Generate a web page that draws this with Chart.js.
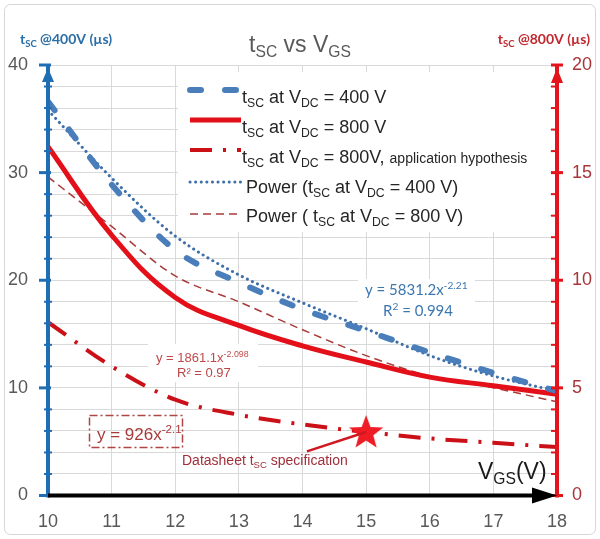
<!DOCTYPE html>
<html>
<head>
<meta charset="utf-8">
<title>tSC vs VGS</title>
<script src="https://cdn.jsdelivr.net/npm/chart.js@4.4.0/dist/chart.umd.min.js"></script>
<style>
  html, body { margin: 0; padding: 0; background: #fff; }
  #wrap { width: 600px; height: 539px; }
</style>
</head>
<body>
<div id="wrap"><canvas id="chart" width="600" height="539"></canvas></div>
<script>
'use strict';

// ── Data ───────────────────────────────────────────────────────────────────
const vgs = [10, 11, 12, 13, 14, 15, 16, 17, 18];
// left axis (µs @400V)
const tsc400 = [36.6, 28.9, 22.8, 19.8, 17.3, 15.3, 13.3, 11.4, 9.7];
const fit400 = [35.8, 29.5, 24.1, 20.5, 17.9, 15.5, 13.0, 11.1, 9.7];
// right axis (µs @800V)
const tsc800 = [16.2, 12.1, 9.2, 7.9, 6.95, 6.2, 5.5, 5.1, 4.7];
const fit800 = [14.8, 12.5, 10.2, 9.0, 7.7, 6.5, 5.55, 5.0, 4.35];
const tsc800App = [8.05, 6.0, 4.45, 3.75, 3.3, 2.95, 2.65, 2.45, 2.25];
// datasheet spec marker (right axis) and where its pointer line starts
const specX = [15];
const specY = [2.95];
const specPointerFrom = [14.07, 2.05];

const leftLabels = [0, 10, 20, 30, 40];
const rightLabels = [0, 5, 10, 15, 20];

// ── Styles ─────────────────────────────────────────────────────────────────
const FONT = "'Liberation Sans', Arial, sans-serif";
const CAL = "Lato, 'Open Sans', sans-serif";
const S400 = { color: '#4a7ebb', width: 6, dash: [11, 24], cap: 'round', tension: 0 };
const S800 = { color: '#e3101a', width: 5, dash: [], cap: 'butt', tension: 0.4 };
const SAPP = { color: '#cc1018', width: 4, dash: [22, 11, 3, 11], cap: 'butt', tension: 0 };
const SFIT400 = { color: '#3e6fa8', width: 3, dash: [0.1, 5.5], cap: 'round', tension: 0 };
const SFIT800 = { color: '#a83a3a', width: 1.5, dash: [8, 5], cap: 'butt', tension: 0 };

const pairs = ys => vgs.map((x, i) => ({ x: x, y: ys[i] }));

function lineSet(label, ys, axis, st) {
    const ds = {
        label: label,
        data: pairs(ys),
        yAxisID: axis,
        borderColor: st.color,
        borderWidth: st.width,
        borderDash: st.dash,
        borderCapStyle: st.cap,
        pointRadius: 0,
        fill: false,
    };
    if (st.tension) ds.tension = st.tension;
    else ds.cubicInterpolationMode = 'monotone';
    return ds;
}

// red filled five-point star used as the point style of the spec marker
function makeStar(size, color) {
    const c = document.createElement('canvas');
    c.width = size; c.height = size;
    const g = c.getContext('2d');
    const R = size / 2, r = R * 0.42;
    g.beginPath();
    for (let i = 0; i < 10; i++) {
        const a = -Math.PI / 2 + i * Math.PI / 5;
        const rad = i % 2 === 0 ? R : r;
        g.lineTo(R + rad * Math.cos(a), R + 1 + rad * Math.sin(a));
    }
    g.closePath();
    g.fillStyle = color;
    g.fill();
    return c;
}

// text with sub/superscripts: parts = [[text, kind]], kind: sub | sup | small
function drawRich(ctx, x, y, parts, o) {
    const fam = o.family || FONT, wt = o.weight || 'normal', size = o.size;
    const fontFor = k => {
        const s = (k === 'sub' || k === 'sup') ? size * (o.subScale || 0.68)
            : k === 'small' ? o.small : size;
        return wt + ' ' + s + 'px ' + fam;
    };
    let total = 0;
    parts.forEach(p => { ctx.font = fontFor(p[1]); total += ctx.measureText(p[0]).width; });
    let cx = o.align === 'center' ? x - total / 2 : o.align === 'right' ? x - total : x;
    ctx.fillStyle = o.color;
    ctx.textAlign = 'left';
    ctx.textBaseline = 'alphabetic';
    parts.forEach(p => {
        ctx.font = fontFor(p[1]);
        const dy = p[1] === 'sub' ? size * 0.22 : p[1] === 'sup' ? -size * 0.42 : 0;
        ctx.fillText(p[0], cx, y + dy);
        cx += ctx.measureText(p[0]).width;
    });
    return total;
}

function strokeLine(ctx, x1, y1, x2, y2, st) {
    ctx.save();
    ctx.strokeStyle = st.color;
    ctx.lineWidth = st.width;
    ctx.setLineDash(st.dash || []);
    ctx.lineCap = st.cap || 'butt';
    ctx.beginPath();
    ctx.moveTo(x1, y1);
    ctx.lineTo(x2, y2);
    ctx.stroke();
    ctx.restore();
}

function tri(ctx, pts, color) {
    ctx.beginPath();
    ctx.moveTo(pts[0], pts[1]);
    ctx.lineTo(pts[2], pts[3]);
    ctx.lineTo(pts[4], pts[5]);
    ctx.closePath();
    ctx.fillStyle = color;
    ctx.fill();
}

const legendItems = [
    { y: 90, base: 103, st: S400, parts: [['t'], ['SC', 'sub'], [' at V'], ['DC', 'sub'], [' = 400 V']] },
    { y: 120, base: 133, st: S800, parts: [['t'], ['SC', 'sub'], [' at V'], ['DC', 'sub'], [' = 800 V']] },
    { y: 150, base: 163, st: SAPP, parts: [['t'], ['SC', 'sub'], [' at V'], ['DC', 'sub'], [' = 800V, '], ['application hypothesis', 'small']] },
    { y: 182, base: 193, st: SFIT400, parts: [['Power (t'], ['SC', 'sub'], [' at V'], ['DC', 'sub'], [' = 400 V)']] },
    { y: 214, base: 222, st: SFIT800, parts: [['Power ( t'], ['SC', 'sub'], [' at V'], ['DC', 'sub'], [' = 800 V)']] },
];

const decor = {
    id: 'decor',
    beforeDraw(chart) {
        const ctx = chart.ctx;
        ctx.save();
        ctx.fillStyle = '#fff';
        ctx.fillRect(0, 0, chart.width, chart.height);
        ctx.strokeStyle = '#d6d6d6';
        ctx.lineWidth = 1;
        ctx.beginPath();
        ctx.roundRect(4.5, 4.5, 591, 530, 6);
        ctx.stroke();
        ctx.restore();
    },
    beforeDatasetsDraw(chart) {
        const ctx = chart.ctx;
        ctx.save();
        ctx.fillStyle = '#fff';
        ctx.fillRect(178, 72, 372, 160);   // legend
        ctx.fillRect(358, 279, 117, 43);   // 400 V fit label
        ctx.fillRect(148, 344, 110, 38);   // 800 V fit label
        ctx.restore();
    },
    afterDatasetsDraw(chart) {
        const ctx = chart.ctx;
        const a = chart.chartArea;
        const xs = chart.scales.x, yl = chart.scales.y, yr = chart.scales.y1;
        ctx.save();

        // left axis (blue) with ticks and arrow
        const blue = '#1f6db3';
        strokeLine(ctx, a.left, a.bottom + 2, a.left, a.top, { color: blue, width: 4 });
        for (let v = 0; v <= 40; v += 2) {
            const py = yl.getPixelForValue(v);
            if (v % 10 === 0) strokeLine(ctx, a.left - 9, py, a.left + 3, py, { color: blue, width: 3 });
            else strokeLine(ctx, a.left - 4, py, a.left + 4, py, { color: blue, width: 2 });
        }
        tri(ctx, [a.left, a.top + 3, a.left - 6, a.top + 17, a.left + 6, a.top + 17], blue);

        // right axis (red) with ticks and arrow
        const red = '#e3141c';
        strokeLine(ctx, a.right, a.bottom + 2, a.right, a.top, { color: red, width: 4 });
        for (let v = 0; v <= 20; v += 1) {
            const py = yr.getPixelForValue(v);
            if (v % 5 === 0) strokeLine(ctx, a.right - 6, py, a.right + 6, py, { color: red, width: 3 });
            else strokeLine(ctx, a.right - 6, py, a.right + 1, py, { color: red, width: 2 });
        }
        tri(ctx, [a.right, a.top + 3, a.right - 6, a.top + 18, a.right + 6, a.top + 18], red);

        // x axis (black) with arrow
        strokeLine(ctx, a.left, a.bottom, a.right - 18, a.bottom, { color: '#000', width: 4 });
        tri(ctx, [a.right, a.bottom, a.right - 25, a.bottom - 8, a.right - 25, a.bottom + 8], '#000');

        // legend
        legendItems.forEach(it => {
            strokeLine(ctx, 190, it.y, 241, it.y, it.st);
            drawRich(ctx, it.st === SFIT400 || it.st === SFIT800 ? 246 : 242, it.base, it.parts,
                { size: 18, small: 14, color: '#262626' });
        });

        // fit equations
        drawRich(ctx, 365, 295, [['y = 5831.2x'], ['-2.21', 'sup']], { size: 15, family: CAL, color: '#3d77b0' });
        drawRich(ctx, 418, 316, [['R'], ['2', 'sup'], [' = 0.994']], { size: 15, family: CAL, color: '#3d77b0', align: 'center' });
        drawRich(ctx, 156, 362, [['y = 1861.1x'], ['-2.098', 'sup']], { size: 13, color: '#c04a4a' });
        drawRich(ctx, 177, 377, [['R² = 0.97']], { size: 13, color: '#b84646' });

        // application hypothesis equation in a dash-dot box
        ctx.save();
        ctx.strokeStyle = '#b04545';
        ctx.lineWidth = 1.5;
        ctx.setLineDash([8, 3, 2, 3]);
        ctx.strokeRect(89.5, 415.5, 93, 32);
        ctx.restore();
        drawRich(ctx, 97, 440, [['y = 926x'], ['-2.1', 'sup']], { size: 17, color: '#a83a3a' });

        // datasheet spec pointer
        strokeLine(ctx, xs.getPixelForValue(specPointerFrom[0]), yr.getPixelForValue(specPointerFrom[1]),
            xs.getPixelForValue(specX[0]), yr.getPixelForValue(specY[0]), { color: '#d01820', width: 2.5 });
        drawRich(ctx, 182, 465, [['Datasheet t'], ['SC', 'sub'], [' specification']], { size: 14, color: '#a0303a' });

        // x axis name
        drawRich(ctx, 478, 479, [['V'], ['GS', 'sub'], ['(V)']], { size: 23, color: '#1a1a1a' });

        // titles
        drawRich(ctx, 300, 52, [['t'], ['SC', 'sub'], [' vs V'], ['GS', 'sub']], { size: 23, color: '#595959', align: 'center' });
        drawRich(ctx, 20, 44, [['t'], ['SC', 'sub'], [' @400V (µs)']], { size: 14, family: CAL, weight: 'bold', color: '#2a6ea6' });
        drawRich(ctx, 590, 44, [['t'], ['SC', 'sub'], [' @800V (µs)']], { size: 14, family: CAL, weight: 'bold', color: '#c0282e', align: 'right' });

        ctx.restore();
    },
};

new Chart(document.getElementById('chart'), {
    type: 'line',
    data: {
        datasets: [
            {
                label: 'Datasheet spec',
                data: specX.map((x, i) => ({ x: x, y: specY[i] })),
                yAxisID: 'y1',
                showLine: false,
                pointStyle: makeStar(36, '#ee1c24'),
                pointRadius: 10,
                pointHoverRadius: 10,
            },
            lineSet('tSC at VDC = 400 V', tsc400, 'y', S400),
            lineSet('tSC at VDC = 800 V', tsc800, 'y1', S800),
            lineSet('tSC at VDC = 800V, application hypothesis', tsc800App, 'y1', SAPP),
            lineSet('Power (tSC at VDC = 400 V)', fit400, 'y', SFIT400),
            lineSet('Power (tSC at VDC = 800 V)', fit800, 'y1', SFIT800),
        ],
    },
    options: {
        responsive: false,
        animation: false,
        devicePixelRatio: 1,
        layout: { padding: { top: 65, left: 0, right: 0, bottom: 0 } },
        plugins: { legend: { display: false }, tooltip: { enabled: false }, title: { display: false } },
        scales: {
            x: {
                type: 'linear',
                min: 10,
                max: 18,
                ticks: { stepSize: 1, color: '#595959', font: { family: FONT, size: 18 }, padding: 16, autoSkip: false },
                grid: { color: '#d9d9d9', drawTicks: false },
                border: { display: false },
                afterFit: s => { s.height = 43.5; },
            },
            y: {
                position: 'left',
                min: 0,
                max: 40,
                ticks: {
                    stepSize: 2, autoSkip: false, color: '#595959', font: { family: FONT, size: 18 }, padding: 20,
                    callback: v => leftLabels.includes(v) ? String(v) : '',
                },
                grid: { color: '#d9d9d9', drawTicks: false },
                border: { display: false },
                afterFit: s => { s.width = 48; },
            },
            y1: {
                position: 'right',
                min: 0,
                max: 20,
                ticks: {
                    stepSize: 1, autoSkip: false, color: '#a8353a', font: { family: FONT, size: 18 }, padding: 15,
                    callback: v => rightLabels.includes(v) ? String(v) : '',
                },
                grid: { display: false, drawTicks: false },
                border: { display: false },
                afterFit: s => { s.width = 43; },
            },
        },
    },
    plugins: [decor],
});
</script>
</body>
</html>
